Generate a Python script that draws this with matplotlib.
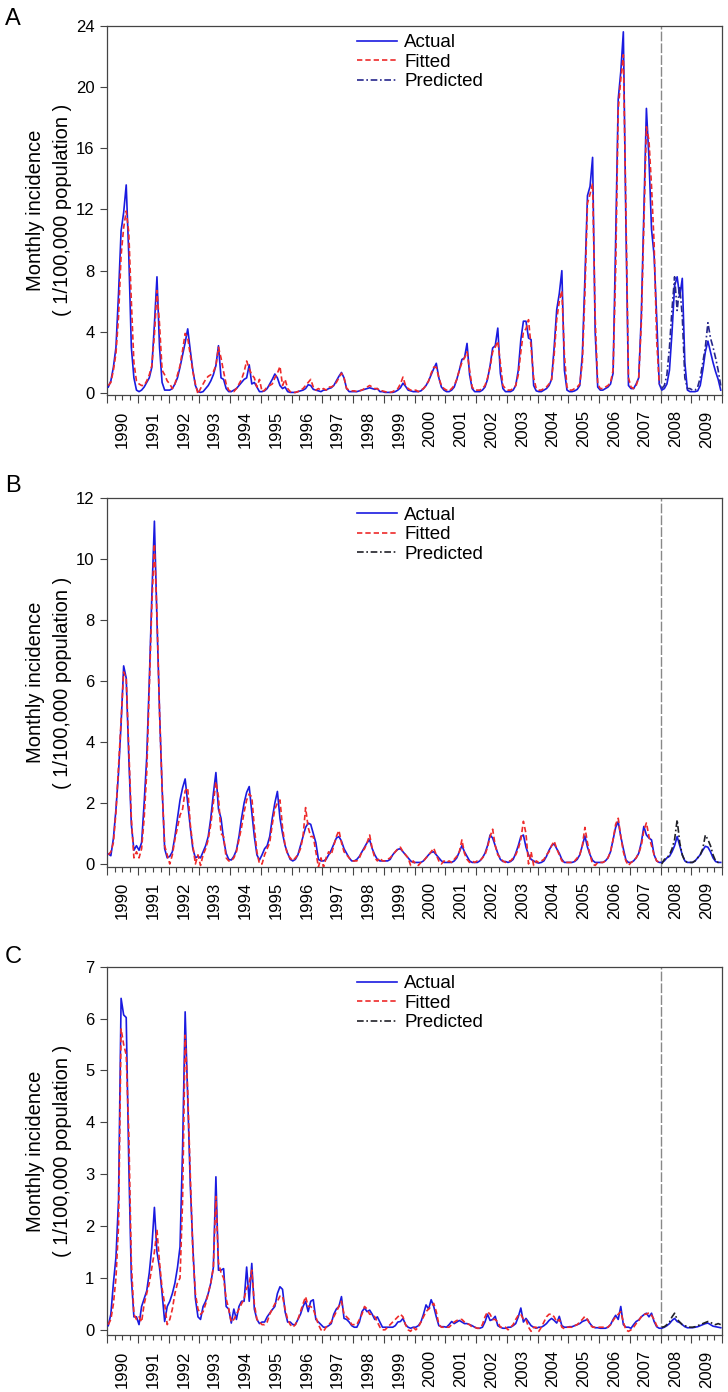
import matplotlib
matplotlib.use('Agg')
import matplotlib.pyplot as plt
import numpy as np
from matplotlib.lines import Line2D
from matplotlib.transforms import blended_transform_factory

plt.rcParams['font.family'] = ['Liberation Sans', 'DejaVu Sans']

years = list(range(1990, 2010))
year_labels = [str(y) for y in years]
legend_labels = ['Actual', 'Fitted', 'Predicted']

# ---------------- Panel A (monthly values, one row per year) ----------------
A_actual = [
    [0.4, 0.8, 1.7, 3.0, 6.5, 10.6, 11.8, 13.6, 9.0, 3.0, 1.0, 0.2],
    [0.1, 0.2, 0.4, 0.7, 1.0, 1.7, 4.5, 7.6, 3.0, 0.7, 0.2, 0.2],
    [0.2, 0.3, 0.6, 1.0, 1.7, 2.5, 3.3, 4.2, 2.8, 1.5, 0.5, 0.1],
    [0.05, 0.1, 0.3, 0.5, 0.8, 1.2, 1.8, 3.1, 1.0, 0.9, 0.3, 0.1],
    [0.1, 0.2, 0.3, 0.5, 0.7, 0.9, 1.0, 1.85, 0.6, 0.7, 0.4, 0.1],
    [0.1, 0.15, 0.3, 0.6, 0.9, 1.25, 1.0, 0.5, 0.3, 0.4, 0.1, 0.05],
    [0.05, 0.05, 0.1, 0.15, 0.2, 0.3, 0.55, 0.5, 0.25, 0.2, 0.15, 0.1],
    [0.2, 0.2, 0.3, 0.35, 0.5, 0.8, 1.1, 1.35, 1.0, 0.3, 0.1, 0.1],
    [0.1, 0.1, 0.15, 0.2, 0.25, 0.3, 0.35, 0.3, 0.25, 0.3, 0.1, 0.1],
    [0.05, 0.05, 0.05, 0.05, 0.1, 0.2, 0.35, 0.65, 0.45, 0.2, 0.15, 0.1],
    [0.1, 0.1, 0.15, 0.3, 0.5, 0.8, 1.2, 1.6, 1.95, 1.0, 0.4, 0.2],
    [0.1, 0.1, 0.2, 0.4, 0.9, 1.5, 2.2, 2.3, 3.25, 1.2, 0.3, 0.1],
    [0.1, 0.1, 0.2, 0.4, 0.9, 1.8, 2.95, 3.1, 4.25, 1.3, 0.3, 0.1],
    [0.1, 0.1, 0.2, 0.5, 1.5, 3.5, 4.7, 4.7, 3.6, 3.5, 0.5, 0.15],
    [0.1, 0.1, 0.2, 0.3, 0.5, 0.9, 3.0, 5.45, 6.5, 8.0, 1.5, 0.2],
    [0.1, 0.1, 0.15, 0.25, 0.5, 2.5, 7.5, 12.9, 13.5, 15.4, 4.0, 0.4],
    [0.2, 0.2, 0.3, 0.4, 0.6, 1.3, 10.0, 19.2, 21.0, 23.6, 11.0, 0.5],
    [0.3, 0.3, 0.6, 1.0, 5.0, 11.8, 18.6, 15.3, 10.7, 9.0, 5.0, 0.6],
    [0.2, 0.3, 0.6, 1.5, 4.0, 7.0, 7.6, 6.3, 7.5, 2.0, 0.2, 0.1],
    [0.1, 0.1, 0.15, 0.5, 1.5, 2.7, 3.4, 2.7, 2.0, 1.4, 0.9, 0.2],
]
A_fitted = [
    [0.5, 0.7, 1.5, 2.6, 5.0, 9.0, 10.8, 11.9, 10.5, 6.0, 2.0, 0.8],
    [0.6, 0.5, 0.5, 0.8, 1.2, 1.8, 3.8, 6.7, 4.5, 1.5, 1.2, 0.8],
    [0.6, 0.3, 0.6, 1.2, 1.8, 2.8, 3.9, 3.6, 2.5, 1.4, 0.6, -0.05],
    [0.3, 0.6, 0.9, 1.1, 1.2, 1.4, 1.8, 3.0, 2.3, 1.4, 0.6, 0.2],
    [0.1, 0.1, 0.3, 0.6, 0.9, 1.4, 2.1, 1.6, 1.2, 1.0, 0.4, 0.9],
    [0.1, 0.2, 0.4, 0.5, 0.6, 1.0, 1.3, 1.75, 0.5, 0.9, 0.3, 0.1],
    [0.05, 0.05, 0.1, 0.2, 0.3, 0.5, 0.7, 0.9, 0.4, 0.2, 0.3, 0.2],
    [0.3, 0.2, 0.4, 0.4, 0.5, 0.7, 1.0, 1.3, 1.0, 0.3, 0.2, 0.15],
    [0.15, 0.1, 0.15, 0.2, 0.3, 0.4, 0.5, 0.4, 0.3, 0.3, 0.15, 0.15],
    [0.1, 0.05, 0.05, 0.1, 0.2, 0.3, 0.6, 1.05, 0.5, 0.3, 0.2, 0.15],
    [0.2, 0.1, 0.2, 0.3, 0.5, 0.8, 1.3, 1.7, 1.7, 1.0, 0.5, 0.3],
    [0.2, 0.15, 0.3, 0.5, 0.9, 1.5, 2.0, 2.3, 2.7, 1.5, 0.4, 0.2],
    [0.2, 0.2, 0.3, 0.5, 1.0, 1.7, 2.7, 3.0, 3.4, 2.0, 0.5, 0.3],
    [0.2, 0.2, 0.3, 0.5, 1.2, 2.7, 4.0, 4.2, 4.8, 3.0, 1.0, 0.3],
    [0.2, 0.2, 0.3, 0.4, 0.6, 0.9, 2.5, 4.8, 6.0, 6.7, 2.5, 0.4],
    [0.2, 0.2, 0.3, 0.4, 0.6, 2.0, 6.5, 12.4, 13.0, 13.7, 5.0, 0.6],
    [0.3, 0.3, 0.4, 0.5, 0.7, 1.5, 8.0, 18.5, 20.5, 22.1, 12.0, 1.0],
    [0.4, 0.3, 0.5, 1.0, 4.5, 11.0, 17.4, 16.5, 13.5, 9.8, 3.5, 0.6],
]
A_predicted = [
    [0.3, 0.5, 1.2, 3.0, 5.5, 7.6, 5.4, 7.0, 5.0, 1.0, 0.3, 0.3],
    [0.2, 0.2, 0.4, 1.0, 2.0, 3.0, 4.6, 3.6, 3.0, 2.3, 1.5, 0.5],
]

# ---------------- Panel B ----------------
B_actual = [
    [0.33, 0.27, 0.84, 1.8, 3.0, 4.6, 6.5, 6.1, 3.5, 1.3, 0.45, 0.6],
    [0.45, 0.7, 2.0, 3.5, 6.0, 8.8, 11.25, 8.0, 5.0, 2.5, 0.5, 0.2],
    [0.25, 0.4, 0.9, 1.5, 2.1, 2.5, 2.79, 2.0, 1.2, 0.5, 0.2, 0.25],
    [0.2, 0.4, 0.6, 0.9, 1.5, 2.3, 3.0, 1.8, 1.5, 0.8, 0.35, 0.15],
    [0.13, 0.25, 0.45, 0.9, 1.5, 2.0, 2.35, 2.54, 1.7, 0.9, 0.3, 0.13],
    [0.3, 0.5, 0.6, 0.9, 1.5, 2.0, 2.38, 1.5, 1.0, 0.6, 0.35, 0.15],
    [0.1, 0.15, 0.3, 0.6, 0.9, 1.2, 1.34, 1.3, 1.0, 0.7, 0.15, 0.1],
    [0.1, 0.15, 0.3, 0.45, 0.65, 0.85, 0.9, 0.75, 0.5, 0.35, 0.2, 0.1],
    [0.1, 0.15, 0.25, 0.4, 0.55, 0.7, 0.79, 0.5, 0.3, 0.15, 0.1, 0.1],
    [0.1, 0.1, 0.15, 0.3, 0.4, 0.48, 0.5, 0.4, 0.3, 0.2, 0.1, 0.05],
    [0.05, 0.05, 0.05, 0.1, 0.2, 0.3, 0.38, 0.4, 0.3, 0.2, 0.1, 0.05],
    [0.05, 0.05, 0.05, 0.1, 0.2, 0.4, 0.6, 0.4, 0.25, 0.1, 0.05, 0.05],
    [0.05, 0.1, 0.2, 0.35, 0.6, 0.95, 0.85, 0.6, 0.35, 0.15, 0.08, 0.08],
    [0.05, 0.08, 0.15, 0.35, 0.6, 0.9, 0.95, 0.55, 0.3, 0.15, 0.1, 0.05],
    [0.03, 0.05, 0.1, 0.25, 0.45, 0.6, 0.66, 0.5, 0.35, 0.15, 0.05, 0.05],
    [0.05, 0.05, 0.08, 0.15, 0.3, 0.6, 0.92, 0.55, 0.3, 0.12, 0.05, 0.05],
    [0.05, 0.05, 0.1, 0.2, 0.4, 0.8, 1.2, 1.39, 0.9, 0.5, 0.13, 0.05],
    [0.05, 0.1, 0.2, 0.35, 0.7, 1.23, 0.95, 0.85, 0.79, 0.3, 0.1, 0.05],
    [0.05, 0.1, 0.2, 0.25, 0.4, 0.6, 0.9, 0.6, 0.3, 0.1, 0.05, 0.05],
    [0.05, 0.1, 0.2, 0.3, 0.45, 0.58, 0.55, 0.4, 0.2, 0.08, 0.05, 0.05],
]
B_fitted = [
    [0.3, 0.4, 0.7, 1.7, 3.2, 4.7, 6.3, 6.1, 3.8, 1.5, 0.2, 0.4],
    [0.2, 0.5, 1.5, 3.0, 5.8, 8.5, 10.5, 8.2, 5.0, 2.5, 0.6, 0.3],
    [0.0, 0.3, 0.8, 1.2, 1.6, 1.8, 2.4, 2.5, 1.3, 0.6, 0.0, 0.3],
    [-0.05, 0.3, 0.5, 0.8, 1.3, 2.0, 2.7, 2.2, 1.0, 0.9, 0.2, 0.1],
    [0.1, 0.2, 0.4, 0.8, 1.2, 1.7, 2.1, 2.3, 2.2, 1.2, 0.4, 0.0],
    [0.0, 0.3, 0.5, 0.7, 1.3, 1.8, 2.0, 2.1, 1.2, 0.6, 0.3, 0.2],
    [0.1, 0.2, 0.3, 0.5, 0.9, 1.85, 1.2, 0.9, 0.9, 0.4, -0.1, 0.2],
    [-0.1, 0.2, 0.4, 0.3, 0.6, 0.9, 1.1, 0.7, 0.4, 0.3, 0.2, 0.1],
    [0.1, 0.1, 0.2, 0.4, 0.5, 0.7, 0.95, 0.5, 0.2, 0.1, 0.2, 0.1],
    [0.1, 0.15, 0.2, 0.3, 0.4, 0.5, 0.55, 0.4, 0.3, 0.2, -0.05, 0.1],
    [0.0, -0.05, 0.05, 0.1, 0.2, 0.3, 0.4, 0.52, 0.3, 0.1, 0.0, 0.1],
    [0.05, 0.1, 0.05, 0.15, 0.25, 0.4, 0.79, 0.35, 0.15, 0.05, 0.1, 0.05],
    [0.1, 0.1, 0.2, 0.3, 0.55, 0.9, 1.14, 0.6, 0.3, 0.2, 0.1, 0.05],
    [0.1, 0.1, 0.2, 0.3, 0.5, 0.8, 1.4, 1.0, 0.0, 0.4, -0.05, 0.1],
    [0.05, 0.1, 0.15, 0.3, 0.4, 0.6, 0.75, 0.5, 0.3, 0.1, 0.05, 0.05],
    [0.05, 0.05, 0.1, 0.2, 0.3, 0.6, 1.2, 0.7, 0.3, 0.0, -0.05, 0.05],
    [0.05, 0.05, 0.1, 0.2, 0.4, 0.8, 1.3, 1.5, 0.9, 0.4, 0.1, -0.05],
    [0.05, 0.1, 0.2, 0.35, 0.6, 1.1, 1.35, 0.9, 0.6, 0.3, 0.1, 0.05],
]
B_predicted = [
    [0.0, 0.15, 0.2, 0.3, 0.5, 0.8, 1.45, 0.7, 0.3, 0.1, 0.05, 0.05],
    [0.05, 0.1, 0.2, 0.3, 0.5, 0.95, 0.8, 0.6, 0.3, 0.1, 0.05, 0.0],
]

# ---------------- Panel C ----------------
C_actual = [
    [0.08, 0.3, 0.9, 1.4, 2.5, 6.39, 6.07, 6.02, 3.2, 1.0, 0.25, 0.25],
    [0.1, 0.45, 0.6, 0.75, 1.1, 1.6, 2.36, 1.5, 1.2, 0.7, 0.16, 0.45],
    [0.55, 0.7, 0.9, 1.2, 1.6, 3.5, 6.13, 4.5, 2.8, 1.6, 0.6, 0.25],
    [0.2, 0.45, 0.55, 0.7, 0.9, 1.2, 2.95, 1.15, 1.15, 1.18, 0.45, 0.4],
    [0.13, 0.4, 0.2, 0.45, 0.55, 0.55, 1.21, 0.55, 1.28, 0.4, 0.2, 0.12],
    [0.15, 0.15, 0.25, 0.32, 0.39, 0.45, 0.7, 0.83, 0.78, 0.35, 0.15, 0.15],
    [0.1, 0.1, 0.2, 0.3, 0.45, 0.55, 0.35, 0.55, 0.58, 0.2, 0.15, 0.1],
    [0.05, 0.05, 0.08, 0.12, 0.3, 0.4, 0.45, 0.64, 0.22, 0.2, 0.15, 0.08],
    [0.05, 0.05, 0.15, 0.35, 0.42, 0.35, 0.38, 0.3, 0.2, 0.25, 0.15, 0.05],
    [0.05, 0.05, 0.05, 0.05, 0.08, 0.15, 0.16, 0.22, 0.1, 0.05, 0.03, 0.05],
    [0.05, 0.08, 0.15, 0.3, 0.48, 0.4, 0.58, 0.45, 0.25, 0.08, 0.06, 0.06],
    [0.05, 0.1, 0.16, 0.12, 0.15, 0.18, 0.15, 0.12, 0.12, 0.1, 0.08, 0.05],
    [0.03, 0.03, 0.05, 0.15, 0.3, 0.18, 0.2, 0.26, 0.08, 0.05, 0.03, 0.03],
    [0.05, 0.05, 0.08, 0.12, 0.25, 0.42, 0.15, 0.22, 0.15, 0.08, 0.05, 0.03],
    [0.05, 0.05, 0.08, 0.12, 0.18, 0.22, 0.18, 0.13, 0.26, 0.08, 0.05, 0.05],
    [0.06, 0.06, 0.08, 0.1, 0.12, 0.16, 0.18, 0.2, 0.12, 0.06, 0.04, 0.04],
    [0.03, 0.03, 0.03, 0.05, 0.1, 0.2, 0.28, 0.2, 0.45, 0.1, 0.05, 0.05],
    [0.03, 0.1, 0.16, 0.19, 0.25, 0.29, 0.32, 0.25, 0.32, 0.16, 0.06, 0.03],
    [0.03, 0.05, 0.08, 0.12, 0.18, 0.22, 0.16, 0.14, 0.1, 0.06, 0.04, 0.04],
    [0.04, 0.05, 0.06, 0.08, 0.1, 0.12, 0.13, 0.1, 0.07, 0.06, 0.05, 0.04],
]
C_fitted = [
    [0.1, 0.2, 0.5, 1.0, 2.0, 5.8, 5.5, 5.3, 3.8, 1.3, 0.3, 0.2],
    [0.25, 0.15, 0.5, 0.7, 0.9, 1.2, 1.5, 1.93, 1.3, 0.8, 0.5, 0.1],
    [0.2, 0.4, 0.7, 0.9, 1.0, 2.5, 5.68, 4.6, 3.0, 1.5, 0.7, 0.4],
    [0.3, 0.35, 0.5, 0.7, 0.9, 1.2, 2.57, 1.3, 1.1, 1.0, 0.6, 0.4],
    [0.15, 0.2, 0.3, 0.4, 0.5, 0.6, 0.8, 0.9, 1.15, 0.5, 0.2, 0.15],
    [0.1, 0.1, 0.15, 0.3, 0.4, 0.5, 0.55, 0.65, 0.65, 0.4, 0.2, 0.1],
    [0.05, 0.1, 0.2, 0.35, 0.5, 0.64, 0.45, 0.45, 0.4, 0.25, 0.1, 0.0],
    [-0.03, 0.05, 0.1, 0.15, 0.25, 0.35, 0.45, 0.55, 0.3, 0.25, 0.2, 0.1],
    [0.1, 0.1, 0.2, 0.3, 0.45, 0.4, 0.3, 0.3, 0.25, 0.15, 0.05, 0.0],
    [0.0, 0.05, 0.1, 0.15, 0.2, 0.25, 0.3, 0.25, 0.1, 0.0, -0.03, 0.05],
    [0.0, 0.05, 0.15, 0.25, 0.35, 0.4, 0.45, 0.51, 0.35, 0.1, 0.05, 0.05],
    [0.05, 0.05, 0.1, 0.15, 0.18, 0.2, 0.2, 0.15, 0.12, 0.1, 0.05, 0.05],
    [0.03, 0.03, 0.1, 0.25, 0.35, 0.3, 0.2, 0.2, 0.15, 0.05, 0.05, 0.05],
    [0.0, 0.05, 0.1, 0.2, 0.28, 0.3, 0.2, 0.2, 0.05, -0.03, 0.05, 0.05],
    [-0.03, 0.05, 0.15, 0.25, 0.3, 0.3, 0.25, 0.15, 0.2, 0.05, 0.02, 0.05],
    [0.05, 0.05, 0.08, 0.1, 0.15, 0.2, 0.26, 0.2, 0.1, 0.05, 0.05, 0.05],
    [0.05, 0.05, 0.05, 0.05, 0.1, 0.18, 0.25, 0.3, 0.35, 0.15, 0.0, -0.03],
    [0.0, 0.05, 0.12, 0.18, 0.25, 0.3, 0.3, 0.33, 0.28, 0.2, 0.08, 0.03],
]
C_predicted = [
    [0.05, 0.06, 0.1, 0.15, 0.25, 0.32, 0.2, 0.15, 0.1, 0.08, 0.06, 0.05],
    [0.05, 0.06, 0.08, 0.1, 0.12, 0.14, 0.16, 0.14, 0.12, 0.1, 0.12, 0.1],
]

A_yticks = [0, 4, 8, 12, 16, 20, 24]
B_yticks = [0, 2, 4, 6, 8, 10, 12]
C_yticks = [0, 1, 2, 3, 4, 5, 6, 7]

# ---------------- Drawing ----------------
W, H = 728, 1392
fig = plt.figure(figsize=(W / 100, H / 100), dpi=100)

C_ACT = '#1a1ae0'
C_FIT = '#ee2a2a'

panels = [
    ('A', A_actual, A_fitted, A_predicted, A_yticks, (-0.12, 24), (25.7, 395.0), '#26268c'),
    ('B', B_actual, B_fitted, B_predicted, B_yticks, (-0.09, 12), (498.3, 866.7), '#202028'),
    ('C', C_actual, C_fitted, C_predicted, C_yticks, (-0.10, 7), (966.7, 1335.0), '#202028'),
]
letter_baseline = {'A': 25, 'B': 492, 'C': 963}

LEFT, RIGHT = 107, 722
for letter, act, fit, pred, yt, ylim, (top, bot), pcol in panels:
    ax = fig.add_axes([LEFT / W, 1 - bot / H, (RIGHT - LEFT) / W, (bot - top) / H])
    act_v = np.concatenate([np.asarray(r, float) for r in act])
    fit_v = np.concatenate([np.asarray(r, float) for r in fit])
    pred_v = np.concatenate([np.asarray(r, float) for r in pred])
    x_act = np.arange(len(act_v)) + 0.5
    x_fit = np.arange(len(fit_v)) + 0.5
    x_pred = len(fit_v) + np.arange(len(pred_v)) + 0.5

    ax.plot(x_act, act_v, color=C_ACT, lw=1.2, zorder=3)
    ax.plot(x_fit, fit_v, color=C_FIT, lw=1.2, ls=(0, (3.2, 1.8)), zorder=4)
    ax.plot(x_pred, pred_v, color=pcol, lw=1.2, ls=(0, (4, 1.6, 1, 1.6)), zorder=4)
    ax.axvline(len(fit_v), color='#888888', lw=1.0, ls=(0, (7, 1.5)), zorder=2)

    ax.set_xlim(0, 240)
    ax.set_ylim(*ylim)
    ax.set_yticks(yt)
    ax.set_yticklabels([str(v) for v in yt])
    ax.set_xticks(np.arange(0, 241, 12))
    ax.set_xticks(np.arange(0, 241, 3), minor=True)
    ax.set_xticklabels([])
    ax.tick_params(axis='y', direction='out', length=5, width=0.8, color='#444444',
                   labelsize=12, pad=4)
    ax.tick_params(axis='x', which='major', direction='out', length=6, width=0.8, color='#444444')
    ax.tick_params(axis='x', which='minor', direction='out', length=3.8, width=0.8, color='#444444')
    for sp in ax.spines.values():
        sp.set_color('#444444')
        sp.set_linewidth(0.9)

    tr = blended_transform_factory(ax.transData, ax.transAxes)
    for i, lab in enumerate(year_labels):
        ax.annotate(lab, xy=(12 * i + 6, 0), xycoords=tr, xytext=(0, -11),
                    textcoords='offset points', rotation=90, ha='center', va='top',
                    fontsize=12)

    handles = [Line2D([], [], color=C_ACT, lw=1.2),
               Line2D([], [], color=C_FIT, lw=1.2, ls=(0, (3.2, 1.8))),
               Line2D([], [], color=pcol, lw=1.2, ls=(0, (4, 1.6, 1, 1.6)))]
    ax.legend(handles, legend_labels, loc='upper left',
              bbox_to_anchor=((357 - LEFT) / (RIGHT - LEFT), 1 - 8.5 / (bot - top)),
              frameon=False, fontsize=13.5, handlelength=2.15, handletextpad=0.38,
              labelspacing=0.13, borderpad=0, borderaxespad=0)

    yc = 1 - (top + bot) / 2 / H
    fig.text(36 / W, yc, 'Monthly incidence', rotation=90, ha='center', va='center',
             fontsize=14.5)
    fig.text(62 / W, yc, '( 1/100,000 population )', rotation=90, ha='center',
             va='center', fontsize=14.5)
    fig.text(5 / W, 1 - letter_baseline[letter] / H, letter, fontsize=17,
             ha='left', va='baseline')

fig.savefig('out.png', dpi=100)
